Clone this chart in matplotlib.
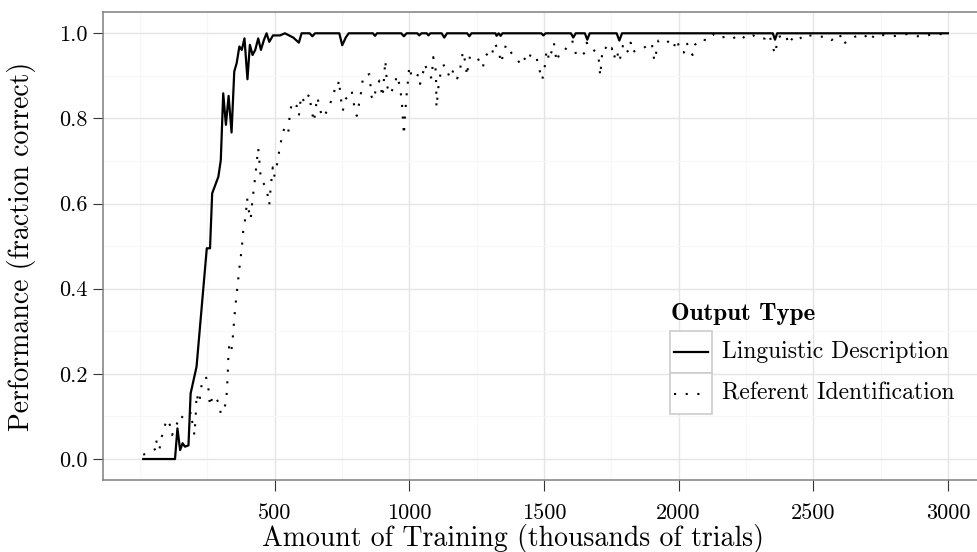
import matplotlib
matplotlib.use('Agg')
import matplotlib.pyplot as plt
from matplotlib.lines import Line2D
from matplotlib.patches import Rectangle
from matplotlib.ticker import FixedLocator, StrMethodFormatter

# Linguistic Description (solid line)
ling_x = [12, 130, 139, 149, 158, 167, 180, 188, 210, 248, 260, 268, 291, 300, 309,
          319, 329, 340, 350, 359, 369, 378, 388, 399, 408, 418, 428, 439, 449, 460,
          470, 480, 494, 520, 538, 569, 590, 600, 630, 640, 650, 740, 751, 764, 775,
          865, 873, 880, 970, 980, 990, 1030, 1037, 1045, 1065, 1071, 1078, 1120, 1130,
          1140, 1215, 1223, 1231, 1320, 1324, 1332, 1339, 1346, 1490, 1498, 1506, 1600,
          1609, 1618, 1652, 1661, 1670, 1770, 1780, 1790, 2350, 2358, 2366, 3000]
ling_y = [0.0, 0.0, 0.072, 0.021, 0.037, 0.029, 0.032, 0.154, 0.217, 0.495, 0.495, 0.624,
          0.663, 0.702, 0.859, 0.785, 0.853, 0.767, 0.910, 0.930, 0.969, 0.961, 0.988,
          0.892, 0.973, 0.949, 0.961, 0.988, 0.961, 0.984, 1.0, 0.980, 0.995, 0.995, 1.0,
          0.990, 0.978, 1.0, 1.0, 0.993, 1.0, 1.0, 0.972, 0.990, 1.0, 1.0, 0.994, 1.0,
          1.0, 0.993, 1.0, 1.0, 0.995, 1.0, 1.0, 0.995, 1.0, 1.0, 0.990, 1.0, 1.0, 0.993,
          1.0, 1.0, 0.994, 1.0, 0.994, 1.0, 1.0, 0.995, 1.0, 1.0, 0.990, 1.0, 1.0, 0.985,
          1.0, 1.0, 0.983, 1.0, 1.0, 0.985, 1.0, 1.0]

# Referent Identification (dotted line)
ref_x = [12, 31, 37, 56, 59, 72, 78, 89, 99, 111, 119, 144, 149, 161, 186, 188, 193, 198,
         202, 207, 210, 219, 225, 229, 245, 254, 260, 270, 285, 295, 300, 307, 319, 322,
         324, 326, 327, 329, 332, 340, 344, 347, 353, 361, 369, 378, 384, 392, 398, 402,
         411, 418, 423, 431, 439, 443, 449, 464, 474, 480, 485, 493, 498, 508, 520, 528,
         538, 551, 557, 566, 582, 590, 598, 613, 628, 638, 646, 658, 668, 675, 687, 703,
         718, 724, 733, 739, 745, 753, 765, 774, 786, 798, 805, 819, 829, 852, 860, 866,
         875, 889, 901, 911, 918, 928, 947, 953, 963, 972, 980, 984, 990, 1000, 1009,
         1025, 1033, 1040, 1050, 1058, 1067, 1083, 1089, 1099, 1101, 1108, 1120, 1133,
         1151, 1164, 1178, 1195, 1198, 1211, 1213, 1225, 1250, 1273, 1281, 1297, 1306,
         1318, 1334, 1340, 1359, 1380, 1411, 1421, 1440, 1452, 1473, 1485, 1493, 1501,
         1510, 1520, 1537, 1547, 1560, 1578, 1605, 1619, 1634, 1652, 1659, 1673, 1683,
         1702, 1706, 1709, 1718, 1730, 1743, 1752, 1760, 1770, 1780, 1795, 1813, 1822,
         1830, 1844, 1869, 1900, 1910, 1919, 1925, 1953, 1981, 1993, 2008, 2020, 2030,
         2040, 2052, 2061, 2079, 2110, 2131, 2151, 2172, 2197, 2228, 2250, 2277, 2302,
         2321, 2337, 2346, 2358, 2362, 2370, 2399, 2407, 2420, 2445, 2457, 2482, 2513,
         2550, 2568, 2599, 2609, 2624, 2655, 2688, 2711, 2729, 2797, 2847, 2906, 2940,
         2977, 2996]
ref_y = [0.010, 0.015, 0.017, 0.023, 0.045, 0.021, 0.046, 0.070, 0.093, 0.080, 0.056,
         0.093, 0.103, 0.096, 0.101, 0.111, 0.090, 0.076, 0.056, 0.103, 0.153, 0.131,
         0.153, 0.176, 0.193, 0.166, 0.124, 0.149, 0.140, 0.129, 0.106, 0.111, 0.131,
         0.154, 0.178, 0.201, 0.225, 0.250, 0.272, 0.258, 0.281, 0.305, 0.352, 0.399,
         0.448, 0.495, 0.542, 0.568, 0.612, 0.589, 0.563, 0.612, 0.635, 0.683, 0.730,
         0.702, 0.655, 0.643, 0.620, 0.597, 0.636, 0.685, 0.663, 0.689, 0.735, 0.759,
         0.782, 0.769, 0.816, 0.839, 0.829, 0.806, 0.853, 0.836, 0.857, 0.816, 0.792,
         0.850, 0.826, 0.803, 0.808, 0.832, 0.851, 0.873, 0.871, 0.890, 0.850, 0.818,
         0.847, 0.851, 0.865, 0.820, 0.806, 0.853, 0.900, 0.904, 0.851, 0.843, 0.865,
         0.889, 0.850, 0.936, 0.875, 0.857, 0.879, 0.901, 0.881, 0.843, 0.761, 0.806,
         0.855, 0.922, 0.898, 0.894, 0.904, 0.881, 0.904, 0.928, 0.910, 0.894, 0.944,
         0.910, 0.826, 0.873, 0.922, 0.926, 0.894, 0.914, 0.894, 0.933, 0.957, 0.926,
         0.900, 0.945, 0.946, 0.919, 0.945, 0.957, 0.949, 0.977, 0.953, 0.930, 0.973,
         0.953, 0.930, 0.945, 0.932, 0.953, 0.941, 0.910, 0.890, 0.910, 0.961, 0.937,
         0.978, 0.933, 0.957, 0.961, 0.983, 0.951, 0.944, 0.955, 0.978, 0.962, 0.962,
         0.949, 0.922, 0.900, 0.966, 0.966, 0.955, 0.965, 0.941, 0.961, 0.933, 0.976,
         0.955, 0.978, 0.955, 0.962, 0.965, 0.978, 0.935, 0.961, 0.983, 0.986, 0.965,
         0.986, 0.955, 0.955, 0.978, 0.962, 0.949, 0.973, 0.986, 0.983, 0.998, 0.988,
         0.992, 0.986, 0.998, 0.986, 0.995, 0.986, 0.988, 0.998, 0.975, 0.951, 0.965,
         0.991, 0.998, 0.974, 0.986, 0.996, 0.986, 0.996, 0.991, 0.993, 0.984, 0.998,
         0.974, 0.980, 0.992, 0.998, 0.982, 0.998, 0.993, 0.998, 0.991, 0.998, 0.998,
         0.984]

x_major = [500, 1000, 1500, 2000, 2500, 3000]
x_minor = [0, 250, 750, 1250, 1750, 2250, 2750]
y_major = [0.0, 0.2, 0.4, 0.6, 0.8, 1.0]
y_minor = [0.1, 0.3, 0.5, 0.7, 0.9]
series_labels = ['Linguistic Description', 'Referent Identification']

plt.rcParams['font.family'] = 'cmr10'
plt.rcParams['mathtext.fontset'] = 'cm'
plt.rcParams['axes.unicode_minus'] = False

W, H = 978, 552
fig = plt.figure(figsize=(W / 100, H / 100), dpi=100)


def fx(px):
    return px / W


def fy(py):
    return 1 - py / H


# panel runs past the right edge of the picture, like the cropped original
ax = fig.add_axes([fx(103), fy(480.3), (988 - 103) / W, (480.3 - 12) / H])
ax.set_xlim(-137.4, 3149)
ax.set_ylim(-0.05, 1.05)

ax.xaxis.set_major_locator(FixedLocator(x_major))
ax.xaxis.set_minor_locator(FixedLocator(x_minor))
ax.yaxis.set_major_locator(FixedLocator(y_major))
ax.yaxis.set_minor_locator(FixedLocator(y_minor))
ax.xaxis.set_major_formatter(StrMethodFormatter('{x:.0f}'))
ax.yaxis.set_major_formatter(StrMethodFormatter('{x:.1f}'))

ax.grid(which='major', color='#E5E5E5', lw=1.0)
ax.grid(which='minor', color='#F7F7F7', lw=0.8)
ax.set_axisbelow(True)

for sp in ax.spines.values():
    sp.set_color('#7F7F7F')
    sp.set_linewidth(1.1)

ax.tick_params(which='major', length=7, width=0.8, color='#333333', pad=4,
               labelsize=16, labelcolor='black')
ax.tick_params(axis='x', which='major', length=8, pad=9)
ax.tick_params(which='minor', length=0)

ax.plot(ling_x, ling_y, color='black', lw=1.6, solid_joinstyle='round')
ax.plot(ref_x, ref_y, color='black', lw=1.5, linestyle=(0, (1, 4.6)))

ax.set_xlabel('Amount of Training (thousands of trials)', fontsize=20)
ax.set_ylabel('Performance (fraction correct)', fontsize=20)
ax.xaxis.set_label_coords((513.5 - 103) / (988 - 103), -0.093)
ax.yaxis.set_label_coords((36 - 103) / (988 - 103), 0.5)

# legend drawn by hand, ggplot style with a box per key
fig.text(fx(671), fy(314), 'Output Type', fontfamily='cmb10', fontsize=18, va='center')
for i, lab in enumerate(series_labels):
    top = 331 + i * 41.5
    fig.add_artist(Rectangle((fx(670), fy(top + 41.5)), 42 / W, 41.5 / H,
                             transform=fig.transFigure, facecolor='white',
                             edgecolor='#CCCCCC', lw=1.2))
    cy = top + 21
    if i == 0:
        ln = Line2D([fx(674), fx(708)], [fy(cy), fy(cy)], color='black', lw=1.6,
                    transform=fig.transFigure)
    else:
        ln = Line2D([fx(674), fx(708)], [fy(cy), fy(cy)], color='black', lw=1.5,
                    linestyle=(0, (1, 4.6)), transform=fig.transFigure)
    fig.add_artist(ln)
    fig.text(fx(722), fy(cy), lab, fontsize=17, va='center')

fig.savefig('out.png', dpi=100)
